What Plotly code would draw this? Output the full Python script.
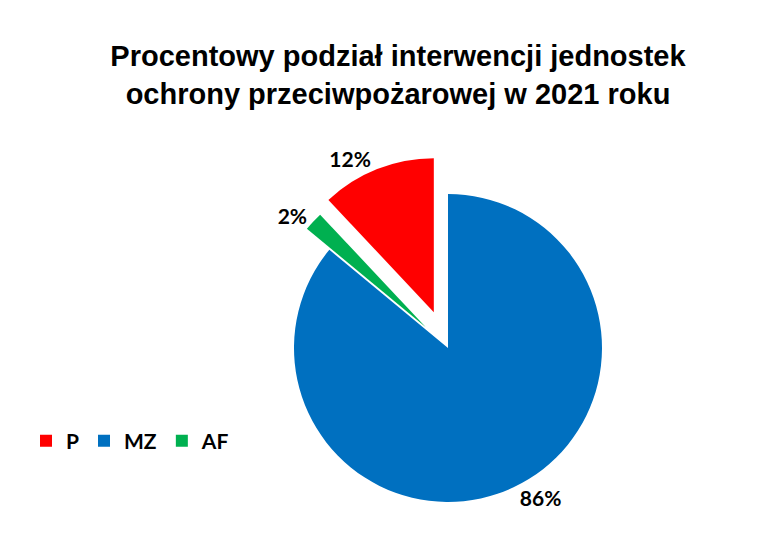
import plotly.graph_objects as go

categories = ["P", "MZ", "AF"]
values = [12, 86, 2]
colors = ["#FF0000", "#0070C0", "#00B050"]
pulls = [0.25, 0.0, 0.2]

W, H = 784, 541
fig = go.Figure(go.Pie(
    labels=categories,
    values=values,
    marker=dict(colors=colors, line=dict(width=0)),
    pull=pulls,
    sort=False,
    direction="clockwise",
    rotation=-43.2,
    textinfo="percent",
    textposition="outside",
    textfont=dict(family="Lato", size=21, color="black", weight="bold"),
    domain=dict(x=[247.5 / W, 632.5 / W], y=[8.5 / H, 393.5 / H]),
    showlegend=True,
))

fig.update_layout(
    width=W, height=H,
    margin=dict(l=0, r=0, t=0, b=0, autoexpand=False),
    paper_bgcolor="white",
    plot_bgcolor="white",
    title=dict(
        text="Procentowy podział interwencji jednostek<br>ochrony przeciwpożarowej w 2021 roku",
        x=390 / W, xanchor="center",
        y=1 - 58 / H, yanchor="top",
        font=dict(family="Liberation Sans", size=29, color="black", weight="bold"),
    ),
    legend=dict(
        orientation="h",
        x=18 / W, xanchor="left",
        y=1 - 433 / H, yanchor="middle",
        font=dict(family="Lato", size=21, color="black", weight="bold"),
        traceorder="normal",
    ),
)

fig.write_html("out.html")
